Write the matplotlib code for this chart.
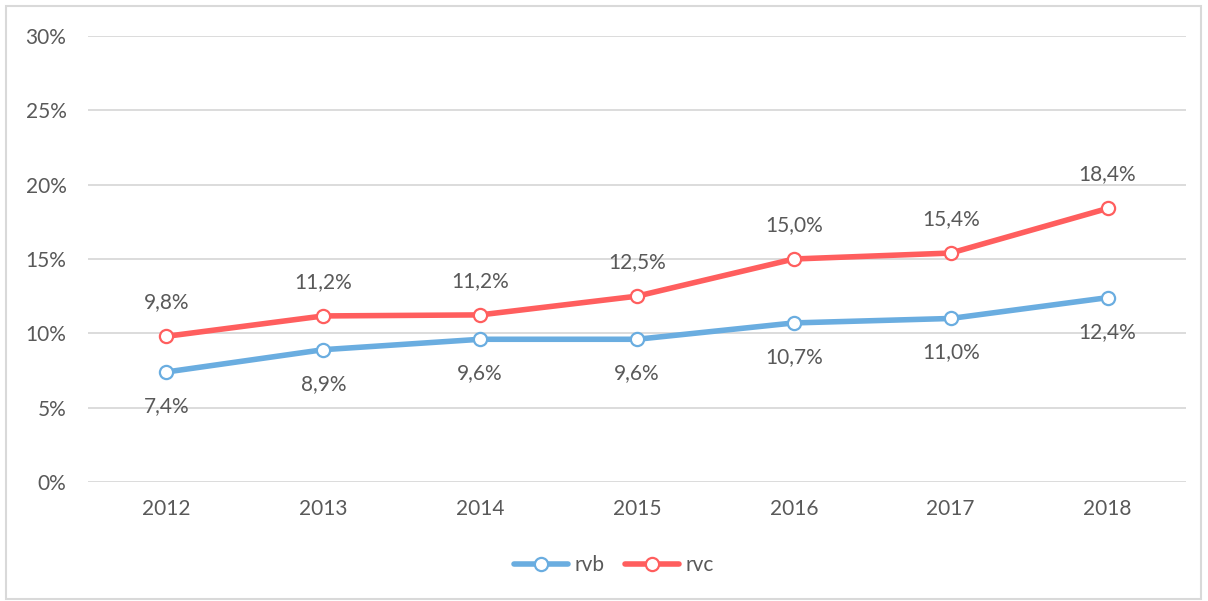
import matplotlib
matplotlib.use("Agg")
import matplotlib.pyplot as plt
from matplotlib.patches import Rectangle

years = ["2012", "2013", "2014", "2015", "2016", "2017", "2018"]
rvb = [7.4, 8.9, 9.6, 9.6, 10.7, 11.0, 12.4]
rvc = [9.8, 11.17, 11.24, 12.5, 15.0, 15.4, 18.4]
yticks = [0, 5, 10, 15, 20, 25, 30]

plt.rcParams['font.family'] = ['Lato', 'DejaVu Sans']
txt = '#595959'
blue = '#6AADE0'
red = '#FF5E5E'

fig = plt.figure(figsize=(12.08, 6.01), dpi=100)
ax = fig.add_axes([88/1208, 119/601, (1186-88)/1208, (482-36)/601])
x = list(range(len(years)))

for vals, col, name, off in [(rvb, blue, 'rvb', -1), (rvc, red, 'rvc', 1)]:
    ax.plot(x, vals, color=col, lw=4, marker='o', ms=9.5, mfc='white',
            mec=col, mew=1.6, label=name, solid_capstyle='round', zorder=3)
    for xi, v in zip(x, vals):
        ax.annotate(f"{v:.1f}%".replace('.', ','), (xi, v), xytext=(0, 24.5*off),
                    textcoords='offset points', ha='center', va='center',
                    fontsize=15, color=txt)

ax.set_xlim(-0.5, len(years) - 0.5)
ax.set_ylim(0, 30)
ax.set_yticks(yticks)
ax.set_yticklabels([f"{t}%" for t in yticks])
ax.set_xticks(x)
ax.set_xticklabels(years)
ax.tick_params(length=0, labelsize=15, colors=txt)
ax.tick_params(axis='y', pad=15.5)
ax.tick_params(axis='x', pad=12)
ax.grid(axis='y', color='#D9D9D9', lw=1.3)
ax.set_axisbelow(True)
for s in ax.spines.values():
    s.set_visible(False)

leg = ax.legend(loc='center', bbox_to_anchor=(614/1208, 36/601), bbox_transform=fig.transFigure,
                ncol=2, frameon=False, fontsize=15, handlelength=2.6, columnspacing=1.0,
                handletextpad=0.3)
for t in leg.get_texts():
    t.set_color(txt)

fig.patches.append(Rectangle((6/1208, 2/601), 1195/1208, 593/601, transform=fig.transFigure,
                             fill=False, ec='#D9D9D9', lw=1.5))
fig.savefig('out.png', dpi=100)
